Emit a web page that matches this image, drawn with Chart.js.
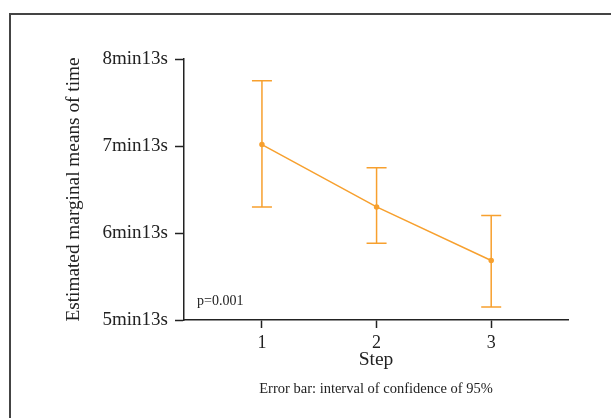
<!DOCTYPE html>
<html>
<head>
<meta charset="utf-8">
<script src="https://cdn.jsdelivr.net/npm/chart.js@4"></script>
<style>
  html, body { margin: 0; padding: 0; background: #fff; }
  #wrap { position: relative; width: 611px; height: 418px; overflow: hidden; }
  #frame { position: absolute; left: 9px; top: 13px; width: 700px; height: 500px; border: 2px solid #444; box-sizing: border-box; }
  canvas { position: absolute; left: 0; top: 0; }
</style>
</head>
<body>
<div id="wrap">
  <div id="frame"></div>
  <canvas id="chart" width="611" height="418"></canvas>
</div>
<script>
// step number, estimated mean (seconds), 95% CI (seconds)
const steps = [1, 2, 3];
const means = [434, 391, 354];
const ciLow = [391, 366, 322];
const ciHigh = [478, 418, 385];
const yTicks = [313, 373, 433, 493];

const orange = '#f7a02e';
const serif = "'Liberation Serif', 'Times New Roman', serif";

function fmtTime(v) {
  const m = Math.floor(v / 60);
  const s = Math.round(v - m * 60);
  return m + 'min' + s + 's';
}

const errorBars = {
  id: 'errorBars',
  afterDatasetsDraw(chart) {
    const { ctx, scales: { x, y } } = chart;
    ctx.save();
    ctx.strokeStyle = orange;
    ctx.lineWidth = 1.5;
    steps.forEach((s, i) => {
      const px = x.getPixelForValue(s);
      const top = y.getPixelForValue(ciHigh[i]);
      const bot = y.getPixelForValue(ciLow[i]);
      ctx.beginPath();
      ctx.moveTo(px, top); ctx.lineTo(px, bot);
      ctx.moveTo(px - 10, top); ctx.lineTo(px + 10, top);
      ctx.moveTo(px - 10, bot); ctx.lineTo(px + 10, bot);
      ctx.stroke();
    });
    ctx.restore();
  }
};

const notes = {
  id: 'notes',
  afterDraw(chart) {
    const { ctx, chartArea } = chart;
    ctx.save();
    ctx.fillStyle = '#222';
    ctx.font = '14px ' + serif;
    ctx.textBaseline = 'middle';
    ctx.textAlign = 'left';
    ctx.fillText('p=0.001', chartArea.left + 13, chartArea.bottom - 19);
    ctx.font = '14.5px ' + serif;
    ctx.textAlign = 'center';
    ctx.fillText('Error bar: interval of confidence of 95%', (chartArea.left + chartArea.right) / 2, 389);
    ctx.restore();
  }
};

new Chart(document.getElementById('chart'), {
  type: 'line',
  data: {
    datasets: [{
      data: steps.map((s, i) => ({ x: s, y: means[i] })),
      borderColor: orange,
      backgroundColor: orange,
      borderWidth: 1.5,
      pointRadius: 2,
      tension: 0
    }]
  },
  options: {
    responsive: false,
    animation: false,
    layout: { padding: { left: 58, right: 43, top: 59, bottom: 42 } },
    plugins: { legend: { display: false }, tooltip: { enabled: false } },
    scales: {
      x: {
        type: 'linear',
        min: 0.32,
        max: 3.67,
        afterFit: (s) => { s.height = 56; },
        afterBuildTicks: (s) => { s.ticks = steps.map(v => ({ value: v })); },
        border: { color: '#222', width: 1.5 },
        grid: { drawOnChartArea: false, tickLength: 8, color: '#222', tickWidth: 1.5 },
        ticks: { color: '#222', padding: 4, font: { family: serif, size: 18 } },
        title: { display: true, text: 'Step', color: '#222', font: { family: serif, size: 19.5 }, padding: { top: 0, bottom: 4 } }
      },
      y: {
        min: 313,
        max: 493,
        afterFit: (s) => { s.width = 126; },
        afterBuildTicks: (s) => { s.ticks = yTicks.map(v => ({ value: v })); },
        border: { color: '#222', width: 1.5 },
        grid: { drawOnChartArea: false, tickLength: 9, color: '#222', tickWidth: 1.5 },
        ticks: { color: '#222', padding: 7, font: { family: serif, size: 19 }, callback: (v) => fmtTime(v) },
        title: { display: true, text: 'Estimated marginal means of time', color: '#222', font: { family: serif, size: 19.3 }, padding: { top: 4, bottom: 4 } }
      }
    }
  },
  plugins: [errorBars, notes]
});
</script>
</body>
</html>
